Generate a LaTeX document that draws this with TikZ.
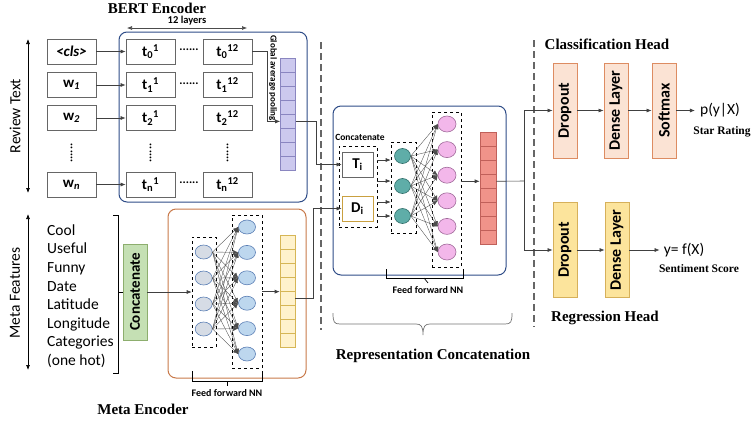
\documentclass[tikz,border=0pt]{standalone}
\usepackage{fontspec}
\setmainfont{Carlito}
\newfontfamily\titlefont{Liberation Serif}
\usetikzlibrary{positioning,arrows.meta,shapes.geometric}

\definecolor{bertblue}{HTML}{2E4C87}
\definecolor{metaorange}{HTML}{C8794A}
\definecolor{lavfill}{HTML}{CCC9EE}
\definecolor{lavdraw}{HTML}{8A86C0}
\definecolor{yelfill}{HTML}{FFF2CC}
\definecolor{yeldraw}{HTML}{D6B656}
\definecolor{redfill}{HTML}{F0938A}
\definecolor{reddraw}{HTML}{C0605A}
\definecolor{grayfill}{HTML}{D6DCE5}
\definecolor{bluefill}{HTML}{BDD7EE}
\definecolor{nodedraw}{HTML}{5B7FB5}
\definecolor{tealfill}{HTML}{5FADA8}
\definecolor{tealdraw}{HTML}{2F6E6A}
\definecolor{pinkfill}{HTML}{F3B7EA}
\definecolor{pinkdraw}{HTML}{A06A9A}
\definecolor{catfill}{HTML}{C5E0B4}
\definecolor{catdraw}{HTML}{8DAE6E}
\definecolor{clsfill}{HTML}{FBE3D4}
\definecolor{clsdraw}{HTML}{DD8C62}
\definecolor{regfill}{HTML}{FCE49C}
\definecolor{regdraw}{HTML}{D6B05A}
\definecolor{golddraw}{HTML}{C9A040}

\newcommand{\fsz}[1]{\fontsize{#1}{#1}\selectfont}

\tikzset{
  tok/.style={draw=black!60, line width=0.8pt, fill=white, minimum width=49pt, minimum height=25pt, inner sep=0pt, font=\bfseries\fsz{15}},
  arr/.style={-{Latex[length=5pt,width=4pt]}, line width=0.6pt, black!75},
  ffarr/.style={-{Latex[length=5pt,width=4.5pt]}, line width=0.35pt, black!70},
  cell/.style={draw, line width=0.6pt, minimum width=15pt, minimum height=14.1pt, inner sep=0pt},
  neuron/.style={ellipse, draw=nodedraw, line width=0.6pt, minimum width=17pt, minimum height=14pt, inner sep=0pt},
  dbox/.style={draw, dashed, line width=0.6pt, inner sep=0pt},
  headbox/.style={draw, line width=0.9pt, minimum width=24pt, minimum height=95pt, inner sep=0pt, font=\bfseries\fsz{16}},
  ttl/.style={font=\titlefont\bfseries\fsz{15}},
  lab/.style={font=\bfseries\fsz{9.5}},
  ffl/.style={font=\bfseries\fsz{10}},
  sidelab/.style={font=\fsz{15.5}, rotate=90},
  dots/.style={font=\bfseries\fsz{12}},
  divider/.style={dash pattern=on 7pt off 4pt, line width=1.3pt, black!60},
  dblarr/.style={{Latex[length=5pt,width=4pt]}-{Latex[length=5pt,width=4pt]}, line width=0.7pt}
}

\begin{document}
\begin{tikzpicture}[x=1pt,y=-1pt]
\useasboundingbox (0,0) rectangle (751,421);

%% BERT encoder
\draw[bertblue, line width=1pt, rounded corners=8pt] (119,32) rectangle (307,202); % BERT box
\node[ttl] (bertT) at (157,8) {BERT Encoder};
\draw[dblarr, black!70, line width=0.6pt] (127,28) -- (247,28); % 12 layers
\node[lab, font=\bfseries\fsz{10.5}] (layers) at (187,21) {12 layers};
\draw[dblarr] (28,39) -- (28,193); % review text
\node[sidelab] (revlab) at (15,116) {Review Text};

\node[tok] (cls) at (71.5,51.5) {\textit{<cls>}};
\node[tok] (w1) at (71.5,85) {w\textsubscript{\textit{1}}};
\node[tok] (w2) at (71.5,118) {w\textsubscript{\textit{2}}};
\node[tok] (wn) at (71.5,184.5) {w\textsubscript{\textit{n}}};
\node[dots, rotate=90] (wdots) at (71.5,153) {......};

\node[tok] (t01) at (150.5,51.5) {t\textsubscript{0}\textsuperscript{1}};
\node[tok] (t11) at (150.5,85) {t\textsubscript{1}\textsuperscript{1}};
\node[tok] (t21) at (150.5,118) {t\textsubscript{2}\textsuperscript{1}};
\node[tok] (tn1) at (150.5,184.5) {t\textsubscript{n}\textsuperscript{1}};
\node[dots, rotate=90] (c1dots) at (150.5,153) {......};

\node[tok] (t012) at (227.5,51.5) {t\textsubscript{0}\textsuperscript{12}};
\node[tok] (t112) at (227.5,85) {t\textsubscript{1}\textsuperscript{12}};
\node[tok] (t212) at (227.5,118) {t\textsubscript{2}\textsuperscript{12}};
\node[tok] (tn12) at (227.5,184.5) {t\textsubscript{n}\textsuperscript{12}};
\node[dots, rotate=90] (c12dots) at (227.5,153) {......};

\node[dots] (d0) at (189,50) {......};
\node[dots] (d1) at (189,83.5) {......};
\node[dots] (dn) at (189,183) {......};

\draw[arr] (cls) -- (t01);
\draw[arr] (w1) -- (t11);
\draw[arr] (w2) -- (t21);
\draw[arr] (wn) -- (tn1);

% pooled vector
\foreach \k in {0,...,7}
  \node[cell, draw=lavdraw, fill=lavfill] (pool\k) at (288,65+\k*14.1) {};
\draw[arr] (t012.east) -- ++(15,0) |- (pool4.west);
\node[rotate=-90, font=\bfseries\fsz{9}] (gap) at (273,78) {Global average pooling};

%% Meta encoder
\draw[dblarr] (28,214) -- (28,370); % meta features
\node[sidelab] (metalab) at (15,293) {Meta Features};
\node[anchor=west, align=left, inner sep=0pt, font=\fontsize{15.5}{18.6}\selectfont] (feats) at (47,296)
  {Cool\\Useful\\Funny\\Date\\Latitude\\Longitude\\Categories\\(one hot)};
\draw[line width=0.7pt] (113,215) -- (118,215) -- (118,373) -- (113,373); % bracket
\coordinate (brk) at (118,292);
\node[draw=catdraw, fill=catfill, line width=0.8pt, minimum width=24pt, minimum height=96pt, inner sep=0pt, font=\bfseries\fsz{15}] (cat) at (135,292) {\rotatebox{90}{Concatenate}};
\draw[line width=0.7pt] (brk) -- (cat.west);

\draw[metaorange, line width=1pt, rounded corners=8pt] (168,209) rectangle (306,378); % meta box
\node[ttl] (metaT) at (143,409) {Meta Encoder};

\node[dbox, minimum width=24pt, minimum height=110pt] (ffL) at (204,292) {};
\node[dbox, minimum width=30pt, minimum height=153pt] (ffR) at (247,291.5) {};
\foreach \i/\y in {1/252,2/278,3/304,4/329}
  \node[neuron, fill=grayfill] (g\i) at (203.7,\y) {};
\foreach \j in {1,...,6}
  \node[neuron, fill=bluefill] (b\j) at (247,227+25.4*\j-25.4) {};
\foreach \i in {1,...,4}
  \foreach \j in {1,...,6}
    \draw[ffarr] (g\i.east) -- (b\j.west);
\draw[arr] (cat) -- (ffL);

\foreach \k in {0,...,7}
  \node[cell, draw=yeldraw, fill=yelfill] (ymeta\k) at (287.5,242+\k*14.1) {};
\draw[arr] (ffR.east |- ymeta3.south west) -- (ymeta3.south west);

\draw[line width=0.7pt] (192,371) -- (192,381) -- (262,381) -- (262,371);
\node[ffl] (fflab1) at (227,393) {Feed forward NN};
\draw[line width=0.7pt] (227,381) -- (fflab1.north);

%% Representation concatenation
\draw[divider] (321,42) -- (321,330);
\draw[divider] (534,40) -- (534,327);
\draw[bertblue, line width=1pt, rounded corners=8pt] (333,106) rectangle (506,275); % middle box

\node[dbox, minimum width=38pt, minimum height=81pt] (catbox) at (358,186.5) {};
\node[lab] (catlab) at (360,137) {Concatenate};
\node[tok, minimum width=31pt] (Ti) at (357.5,164.5) {T\textsubscript{i}};
\node[tok, minimum width=31pt, draw=golddraw] (Di) at (357.5,208.5) {D\textsubscript{i}};
\draw[arr] (pool4.east) -- ++(20,0) |- (Ti.west);
\draw[arr] (ymeta4.east) -- ++(18,0) |- (Di.west);

\node[dbox, minimum width=25pt, minimum height=91pt] (ffT) at (403.5,187.5) {};
\node[dbox, minimum width=29pt, minimum height=155pt] (ffP) at (446.5,189.5) {};
\foreach \y in {160,181,202,216}
  \draw[arr] (catbox.east |- 0,\y) -- (ffT.west |- 0,\y);
\foreach \i/\y in {1/156,2/186,3/216}
  \node[neuron, draw=tealdraw, fill=tealfill, minimum width=16pt, minimum height=15pt] (tl\i) at (402.5,\y) {};
\foreach \j in {1,...,6}
  \node[neuron, draw=pinkdraw, fill=pinkfill, minimum width=18pt, minimum height=16pt] (pk\j) at (447,124+25.6*\j-25.6) {};
\foreach \i in {1,...,3}
  \foreach \j in {1,...,6}
    \draw[ffarr] (tl\i.east) -- (pk\j.west);

\foreach \k in {0,...,7}
  \node[cell, draw=reddraw, fill=redfill, minimum width=16pt] (red\k) at (488,139+\k*14.1) {};
\draw[arr] (ffP.east |- red3.west) -- (red3.west);

\draw[line width=0.7pt] (386,269) -- (386,278) -- (463,278) -- (463,269);
\node[ffl] (fflab2) at (428,290) {Feed forward NN};
\draw[line width=0.7pt] (424,278) -- (fflab2.north);

\draw[black!55, line width=0.7pt] (333,313) .. controls (333,322) and (334,324) .. (340,324) -- (416,324)
  .. controls (421,324) and (423,326) .. (423,335) .. controls (423,326) and (425,324) .. (430,324) -- (505,324)
  .. controls (511,324) and (512,322) .. (512,313); % brace
\node[ttl] (repT) at (433,356) {Representation Concatenation};

%% Heads
\node[ttl] (clsT) at (607,44) {Classification Head};
\node[headbox, draw=clsdraw, fill=clsfill] (cdrop) at (565,110.5) {\rotatebox{90}{Dropout}};
\node[headbox, draw=clsdraw, fill=clsfill] (cdense) at (616,110.5) {\rotatebox{90}{Dense Layer}};
\node[headbox, draw=clsdraw, fill=clsfill] (csoft) at (664,110.5) {\rotatebox{90}{Softmax}};
\node[font=\fsz{15.5}, inner sep=5pt] (py) at (720,110.5) {p(y|X)};
\node[font=\titlefont\bfseries\fsz{11.5}] (star) at (722,132) {Star Rating};

\node[headbox, draw=regdraw, fill=regfill] (rdrop) at (565,250) {\rotatebox{90}{Dropout}};
\node[headbox, draw=regdraw, fill=regfill] (rdense) at (617,250) {\rotatebox{90}{Dense Layer}};
\node[font=\fsz{15.5}, inner sep=4pt] (yf) at (684,250) {y= f(X)};
\node[font=\titlefont\bfseries\fsz{11.5}] (sent) at (699,269) {Sentiment Score};
\node[ttl] (regT) at (605,318) {Regression Head};

\coordinate (split) at (524,181);
\draw[line width=0.6pt, black!75] (red3.east) -- (split);
\draw[arr] (split) |- (cdrop.west);
\draw[arr] (split) |- (rdrop.west);
\draw[arr] (cdrop) -- (cdense);
\draw[arr] (cdense) -- (csoft);
\draw[arr] (csoft) -- (py);
\draw[arr] (rdrop) -- (rdense);
\draw[arr] (rdense) -- (yf);
\end{tikzpicture}
\end{document}
